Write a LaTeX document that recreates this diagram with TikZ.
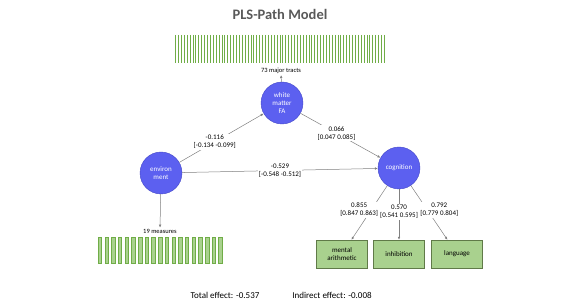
\documentclass[tikz,border=0pt]{standalone}
\usepackage{fontspec}
\setmainfont{Carlito}
\usetikzlibrary{arrows.meta}

\definecolor{lvblue}{RGB}{92,96,240}
\definecolor{lvline}{RGB}{70,74,200}
\definecolor{mvgreen}{RGB}{169,209,142}
\definecolor{mvline}{RGB}{96,122,72}
\definecolor{barline}{RGB}{112,173,71}
\definecolor{lineg}{RGB}{128,128,128}
\definecolor{titlegray}{RGB}{89,89,89}

\begin{document}
\begin{tikzpicture} [
        x=1pt, y=-1pt,
        lv/.style={
        circle,draw=lvline,fill=lvblue,
        minimum size=42pt,inner sep=0pt,
        text=white,align=center,
        font=\fontsize{7}{8}\selectfont
        },
        mv/.style={
        rectangle,draw=mvline,fill=mvgreen,
        minimum width=51pt,minimum height=28pt,
        align=center,font=\fontsize{7}{8}\selectfont
        },
        bar/.style={draw=barline,fill=mvgreen,line width=0.4pt},
        pth/.style={draw=lineg,line width=0.5pt,-{Latex[length=3pt,width=2.6pt]}},
        coef/.style={fill=white,inner sep=1pt,align=center,font=\fontsize{7}{8}\selectfont},
        lab/.style={inner sep=1pt,font=\fontsize{6.5}{7.5}\selectfont}
    ]

    \useasboundingbox (0,0) rectangle (567,304);

    \node[text=titlegray,font=\bfseries\fontsize{14.5}{16}\selectfont] (ntitle) at (280,14) {PLS-Path Model};

    % 73 tracts / 19 measures
    \foreach \i in {0,...,72} {
        \draw[barline,line width=0.7pt] (175.5+\i*2.9,35) -- (175.5+\i*2.9,63);
    }
    \foreach \i in {0,...,18} {
        \draw[bar] (98+\i*6.7,237) rectangle (101.5+\i*6.7,263);
    }

    \node[lv] (nwm) at (282,103) {white\\matter\\FA};
    \node[lv] (nenv) at (161,173) {environ\\ment};
    \node[lv] (ncog) at (399,168) {cognition};

    \node[lab] (ntract) at (281,71) {73 major tracts};
    \node[lab] (nmeas) at (160,231) {19 measures};

    \node[mv] (nma) at (342,254) {mental\\arithmetic};
    \node[mv] (ninh) at (399,254) {inhibition};
    \node[mv] (nlang) at (457,254) {language};

    \draw[pth] (nwm) -- (ntract);
    \draw[pth] (nenv) -- (nmeas);
    \draw[pth] (nenv) -- node[coef,pos=0.42] {-0.116\\{[-0.134 -0.099]}} (nwm);
    \draw[pth] (nwm) -- node[coef,pos=0.45] {0.066\\{[0.047 0.085]}} (ncog);
    \draw[pth] (nenv) -- node[coef] {-0.529\\{[-0.548 -0.512]}} (ncog);
    \draw[pth] (ncog) -- node[coef,pos=0.45,xshift=-12pt] {0.855\\{[0.847 0.863]}} (nma);
    \draw[pth] (ncog) -- node[coef,pos=0.45] {0.570\\{[0.541 0.595]}} (ninh);
    \draw[pth] (ncog) -- node[coef,pos=0.45,xshift=12pt] {0.792\\{[0.779 0.804]}} (nlang);

    \node[font=\fontsize{9}{10}\selectfont] (ntotal) at (225,295) {Total effect: -0.537};
    \node[font=\fontsize{9}{10}\selectfont] (nind) at (332,295) {Indirect effect: -0.008};

\end{tikzpicture}
\end{document}
